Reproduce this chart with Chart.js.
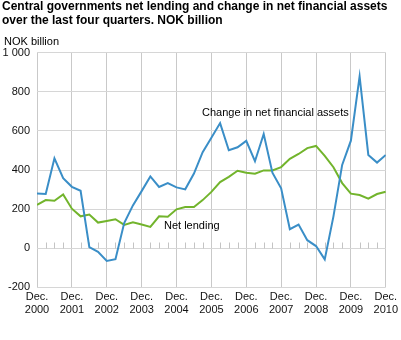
<!DOCTYPE html>
<html>
<head>
<meta charset="utf-8">
<script src="https://cdn.jsdelivr.net/npm/chart.js@4/dist/chart.umd.min.js"></script>
<style>
  html, body { margin: 0; padding: 0; background: #ffffff; }
  #wrap { width: 401px; height: 340px; position: relative; }
</style>
</head>
<body>
<div id="wrap"><canvas id="c" width="401" height="340"></canvas></div>
<script>
// Quarterly observations, Dec. 2000 (index 0) to Dec. 2010 (index 40)
const quarterIndex = Array.from({length: 41}, (_, i) => i);

const changeInNetFinancialAssets = [
  280, 277, 460, 358, 314, 294, 5, -19, -65, -56,
  129, 219, 292, 367, 313, 333, 311, 301, 382, 491,
  565, 640, 501, 516, 549, 445, 584, 386, 306, 97,
  121, 41, 11, -57, 163, 426, 550, 879, 477, 438,
  477
];

const netLending = [
  221, 246, 243, 275, 202, 163, 172, 131, 139, 148,
  119, 133, 121, 109, 163, 161, 199, 211, 211, 246,
  288, 338, 365, 396, 386, 381, 398, 398, 415, 457,
  482, 512, 523, 472, 414, 333, 279, 272, 253, 277,
  289
];

const xTickYears = ["2000","2001","2002","2003","2004","2005","2006","2007","2008","2009","2010"];
const xTickMonth = "Dec.";
const yTicks = [-200, 0, 200, 400, 600, 800, 1000];

const titleLines = [
  "Central governments net lending and change in net financial assets",
  "over the last four quarters. NOK billion"
];
const unitLabel = "NOK billion";
const seriesNames = ["Change in net financial assets", "Net lending"];

const FONT = "'Liberation Sans', Arial, sans-serif";

const toPoints = arr => arr.map((v, i) => ({x: quarterIndex[i], y: v}));

const textPlugin = {
  id: 'texts',
  afterDraw(chart) {
    const ctx = chart.ctx;
    ctx.save();
    ctx.fillStyle = '#000';
    ctx.textBaseline = 'middle';
    ctx.textAlign = 'left';
    ctx.font = "bold 12px " + FONT;
    ctx.fillText(titleLines[0], 2, 7);
    ctx.fillText(titleLines[1], 2, 20.5);
    ctx.font = "11px " + FONT;
    ctx.fillText(unitLabel, 4, 42);
    ctx.fillText(seriesNames[0], 202, 113);
    ctx.fillText(seriesNames[1], 164, 226);
    ctx.restore();
  }
};

const quarterTicksPlugin = {
  id: 'quarterTicks',
  beforeDatasetsDraw(chart) {
    const xs = chart.scales.x, ys = chart.scales.y;
    const y0 = Math.round(ys.getPixelForValue(0)) + 0.5;
    const ctx = chart.ctx;
    ctx.save();
    ctx.strokeStyle = '#c4c4c4';
    ctx.lineWidth = 1;
    ctx.beginPath();
    quarterIndex.forEach(i => {
      if (i % 4 === 0) return;
      const x = Math.round(xs.getPixelForValue(i)) + 0.5;
      ctx.moveTo(x, y0);
      ctx.lineTo(x, y0 - 6);
    });
    ctx.stroke();
    ctx.restore();
  }
};

new Chart(document.getElementById('c'), {
  type: 'line',
  data: {
    datasets: [
      {
        label: seriesNames[0],
        data: toPoints(changeInNetFinancialAssets),
        borderColor: '#3a8ec7',
        borderWidth: 2,
        pointRadius: 0,
        tension: 0,
        fill: false
      },
      {
        label: seriesNames[1],
        data: toPoints(netLending),
        borderColor: '#72b42c',
        borderWidth: 2,
        pointRadius: 0,
        tension: 0,
        fill: false
      }
    ]
  },
  options: {
    responsive: false,
    animation: false,
    devicePixelRatio: 1,
    layout: { padding: { top: 52.7, left: 0, right: 13, bottom: 22.7 } },
    plugins: {
      legend: { display: false },
      title: { display: false },
      tooltip: { enabled: false }
    },
    scales: {
      x: {
        type: 'linear',
        min: 0,
        max: 40,
        afterFit(scale) { scale.height = 30; },
        afterBuildTicks(scale) {
          scale.ticks = xTickYears.map((_, k) => ({value: k * 4}));
        },
        ticks: {
          autoSkip: false,
          maxRotation: 0,
          padding: 3,
          color: '#111',
          font: { family: FONT, size: 11 },
          callback: (v) => [xTickMonth, xTickYears[v / 4]]
        },
        grid: { color: '#c9c9c9', lineWidth: 1, drawTicks: false },
        border: { display: false }
      },
      y: {
        min: -200,
        max: 1000,
        afterFit(scale) { scale.width = 37; },
        afterBuildTicks(scale) {
          scale.ticks = yTicks.map(v => ({value: v}));
        },
        ticks: {
          padding: 7,
          color: '#111',
          font: { family: FONT, size: 11 },
          callback: (v) => String(v).replace(/\B(?=(\d{3})+(?!\d))/g, ' ')
        },
        grid: { color: '#d6d6d6', lineWidth: 1, drawTicks: false },
        border: { display: false }
      }
    }
  },
  plugins: [quarterTicksPlugin, textPlugin]
});
</script>
</body>
</html>
